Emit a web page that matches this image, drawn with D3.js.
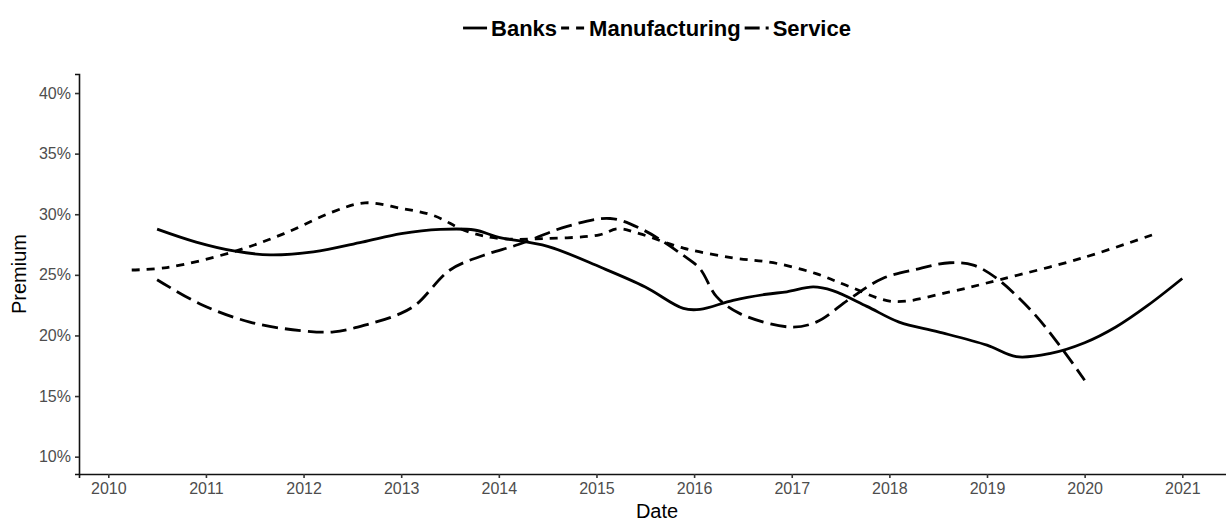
<!DOCTYPE html>
<html>
<head>
<meta charset="utf-8">
<script src="https://cdn.jsdelivr.net/npm/d3@7"></script>
<style>
  html, body { margin: 0; padding: 0; background: #fff; }
  svg { display: block; }
</style>
</head>
<body>
<svg id="chart" width="1226" height="522"></svg>
<script>
// ---- data ----
const seriesNames = ["Banks", "Manufacturing", "Service"];

const banksYears  = [2010.5, 2010.9, 2011.3, 2011.66, 2012.1, 2012.6, 2013.0, 2013.4, 2013.75, 2014.0, 2014.5, 2015.05, 2015.5, 2015.89, 2016.06, 2016.4, 2016.74, 2016.95, 2017.22, 2017.42, 2017.77, 2018.1, 2018.5, 2019.0, 2019.3, 2019.64, 2020.0, 2020.32, 2020.65, 2021.0];
const banksValues = [0.2877, 0.2770, 0.2695, 0.2665, 0.2690, 0.2770, 0.2840, 0.2875, 0.2870, 0.2810, 0.2735, 0.2560, 0.2400, 0.2223, 0.2215, 0.2290, 0.2340, 0.2360, 0.2400, 0.2370, 0.2240, 0.2110, 0.2030, 0.1920, 0.1825, 0.1850, 0.1940, 0.2070, 0.2250, 0.2470];

const manufYears  = [2010.24, 2010.6, 2011.28, 2011.8, 2012.3, 2012.63, 2012.99, 2013.33, 2013.67, 2014.01, 2014.5, 2015.03, 2015.22, 2015.44, 2015.89, 2016.4, 2016.81, 2017.25, 2017.6, 2018.04, 2018.62, 2019.13, 2019.98, 2020.73];
const manufValues = [0.2540, 0.2560, 0.2690, 0.2840, 0.3020, 0.3094, 0.3050, 0.2990, 0.2860, 0.2800, 0.2800, 0.2830, 0.2880, 0.2840, 0.2720, 0.2640, 0.2600, 0.2510, 0.2400, 0.2280, 0.2360, 0.2460, 0.2640, 0.2840];

const serviceYears  = [2010.5, 2010.94, 2011.45, 2011.97, 2012.31, 2012.65, 2012.99, 2013.16, 2013.5, 2013.84, 2014.2, 2014.7, 2015.14, 2015.48, 2015.89, 2016.06, 2016.23, 2016.47, 2016.98, 2017.25, 2017.6, 2017.93, 2018.3, 2018.62, 2018.86, 2019.1, 2019.47, 2019.76, 2020.0];
const serviceValues = [0.2460, 0.2260, 0.2110, 0.2040, 0.2030, 0.2090, 0.2180, 0.2260, 0.2540, 0.2660, 0.2750, 0.2900, 0.2965, 0.2870, 0.2660, 0.2550, 0.2320, 0.2180, 0.2070, 0.2110, 0.2306, 0.2470, 0.2550, 0.2600, 0.2580, 0.2470, 0.2190, 0.1900, 0.1630];

const xTicks = [2010, 2011, 2012, 2013, 2014, 2015, 2016, 2017, 2018, 2019, 2020, 2021];
const yTicks = [0.10, 0.15, 0.20, 0.25, 0.30, 0.35, 0.40];
const xTitle = "Date";
const yTitle = "Premium";

// ---- layout ----
const svg = d3.select("#chart");
const padL = 79, padT = 74, padB = 474, padR = 1235;
const x = d3.scaleLinear().domain([2009.70, 2021.54]).range([padL, padR]);
const y = d3.scaleLinear().domain([0.0857, 0.4157]).range([padB, padT]);

const dashes = { Banks: null, Manufacturing: "8,7", Service: "16,7" };
const lineW = 2.8;

const series = [
  { name: "Banks", xs: banksYears, ys: banksValues },
  { name: "Manufacturing", xs: manufYears, ys: manufValues },
  { name: "Service", xs: serviceYears, ys: serviceValues }
];

const line = d3.line()
  .x(d => x(d[0])).y(d => y(d[1]))
  .curve(d3.curveCatmullRom.alpha(0.5));

// axes
const xAxis = d3.axisBottom(x).tickValues(xTicks).tickFormat(d3.format("d")).tickSizeOuter(0).tickSize(4).tickPadding(5);
const yAxis = d3.axisLeft(y).tickValues(yTicks).tickFormat(d3.format(".0%")).tickSizeOuter(0).tickSize(4).tickPadding(4);

const gx = svg.append("g").attr("transform", `translate(0,${padB})`).call(xAxis);
const gy = svg.append("g").attr("transform", `translate(${padL},0)`).call(yAxis);

[gx, gy].forEach(g => {
  g.select(".domain").attr("stroke", "#111").attr("stroke-width", 1.6);
  g.selectAll(".tick line").attr("stroke", "#333").attr("stroke-width", 1.6);
  g.selectAll(".tick text").attr("fill", "#4d4d4d")
    .style("font-family", "'Liberation Sans', Arial, sans-serif").style("font-size", "16px");
});

// lines
series.forEach(s => {
  const pts = s.xs.map((v, i) => [v, s.ys[i]]);
  svg.append("path").datum(pts)
    .attr("d", line)
    .attr("fill", "none")
    .attr("stroke", "#000")
    .attr("stroke-width", lineW)
    .attr("stroke-dasharray", dashes[s.name]);
});

// axis titles
svg.append("text").text(xTitle)
  .attr("x", (padL + padR) / 2).attr("y", 518)
  .attr("text-anchor", "middle")
  .style("font-family", "'Liberation Sans', Arial, sans-serif").style("font-size", "20px").attr("fill", "#000");

svg.append("text").text(yTitle)
  .attr("transform", `translate(26,${(padT + padB) / 2}) rotate(-90)`)
  .attr("text-anchor", "middle")
  .style("font-family", "'Liberation Sans', Arial, sans-serif").style("font-size", "20px").attr("fill", "#000");

// legend
const legend = svg.append("g");
const keyLen = 24, keyGap = 4, itemGap = 4;
let cx = 0;
seriesNames.forEach(name => {
  const g = legend.append("g").attr("transform", `translate(${cx},0)`);
  g.append("line").attr("x1", 0).attr("x2", keyLen).attr("y1", 0).attr("y2", 0)
    .attr("stroke", "#000").attr("stroke-width", lineW)
    .attr("stroke-dasharray", name === "Service" ? "15,6" : dashes[name]);
  const t = g.append("text").text(name)
    .attr("x", keyLen + keyGap).attr("y", 8)
    .style("font-family", "'Liberation Sans', Arial, sans-serif")
    .style("font-size", "22px").style("font-weight", "bold").attr("fill", "#000");
  cx += keyLen + keyGap + t.node().getComputedTextLength() + itemGap;
});
const totalW = cx - itemGap;
legend.attr("transform", `translate(${(padL + padR) / 2 - totalW / 2},28)`);
</script>
</body>
</html>
